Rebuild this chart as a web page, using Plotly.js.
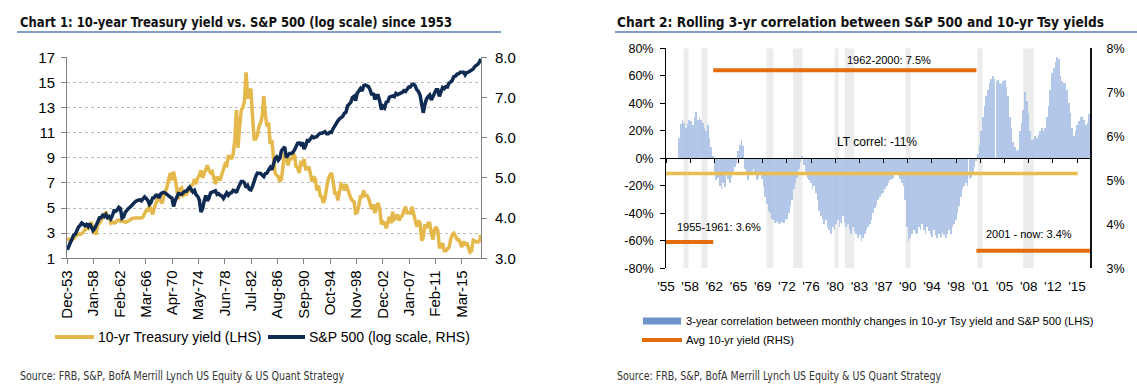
<!DOCTYPE html>
<html><head><meta charset="utf-8">
<script src="https://cdn.plot.ly/plotly-3.0.1.min.js"></script>
<style>html,body{margin:0;padding:0;background:#fff}#c{width:1137px;height:390px}</style>
</head><body><div id="c"></div>
<script>
// ---------- Chart 1 data (quarterly, Dec-53 .. Feb-18) ----------
const c1TickVals = ['1953-12-01','1958-01-01','1962-02-01','1966-03-01','1970-04-01','1974-05-01','1978-06-01','1982-07-01','1986-08-01','1990-09-01','1994-10-01','1998-11-01','2002-12-01','2007-01-01','2011-02-01','2015-03-01'];
const c1TickText = ['Dec-53','Jan-58','Feb-62','Mar-66','Apr-70','May-74','Jun-78','Jul-82','Aug-86','Sep-90','Oct-94','Nov-98','Dec-02','Jan-07','Feb-11','Mar-15'];
const tsyYield = [2.6,
 2.5,2.4,2.5,2.55, 2.75,2.85,2.95,2.9, 2.95,3.1,3.3,3.4, 3.35,3.65,3.9,3.3, 3.0,3.0,3.7,3.8,
 4.0,4.3,4.5,4.7, 4.3,4.2,3.8,3.9, 3.8,3.85,4.0,4.05, 3.95,3.95,3.95,3.85, 3.9,4.0,4.05,4.15,
 4.2,4.2,4.2,4.2, 4.2,4.2,4.3,4.6, 4.8,4.8,5.2,4.85, 4.5,5.0,5.3,5.7, 5.7,5.5,5.4,6.0,
 6.3,6.7,7.3,7.8, 7.2,7.9,7.3,6.4, 5.7,6.5,6.6,6.0, 6.1,6.1,6.5,6.4, 6.8,6.9,7.3,6.9,
 7.4,7.6,8.0,7.4, 7.7,8.0,8.4,8.0, 7.8,7.9,7.5,6.9, 7.5,7.3,7.3,7.7, 8.1,8.5,8.4,9.1,
 9.1,8.9,9.3,10.4, 12.8,9.8,11.5,12.8, 13.0,13.5,15.8,13.7, 14.2,14.5,12.3,10.5, 10.5,10.8,11.5,11.8,
 12.3,13.9,12.4,11.5, 11.8,10.1,10.4,9.3, 7.8,7.6,7.5,7.1, 7.3,8.4,9.4,9.0, 8.4,8.9,8.9,9.1,
 9.3,8.3,8.2,7.8, 8.6,8.5,8.9,8.1, 8.1,8.3,7.7,7.1, 7.5,7.3,6.4,6.8, 6.0,5.9,5.4,5.8,
 6.6,7.3,7.6,7.8, 7.2,6.2,6.2,5.6, 6.3,6.9,6.8,6.4, 6.9,6.5,6.1,5.8, 5.6,5.5,4.6,4.65,
 5.2,5.9,5.9,6.4, 6.0,6.0,5.8,5.2, 4.9,5.3,4.6,5.1, 5.4,4.9,3.7,3.9, 3.8,3.4,4.0,4.3,
 3.8,4.7,4.1,4.2, 4.5,4.0,4.3,4.4, 4.8,5.1,4.6,4.6, 4.6,5.1,4.6,4.0, 3.5,4.0,3.8,2.4,
 2.7,3.7,3.4,3.8, 3.8,3.0,2.5,3.3, 3.5,3.2,1.9,1.9, 2.2,1.6,1.6,1.75, 1.85,2.5,2.9,3.0,
 2.7,2.5,2.5,2.2, 1.9,2.35,2.05,2.25, 1.8,1.5,1.6,2.45, 2.4,2.3,2.3,2.4,
 2.86];
const spxLog = [3.21,
 3.29,3.37,3.48,3.58, 3.60,3.71,3.78,3.82, 3.88,3.85,3.81,3.84, 3.79,3.86,3.75,3.69, 3.74,3.81,3.91,4.01,
 4.01,4.07,4.04,4.09, 4.01,4.04,3.98,4.06, 4.18,4.17,4.20,4.27, 4.24,4.00,4.03,4.14, 4.20,4.24,4.27,4.32,
 4.37,4.40,4.43,4.44, 4.46,4.43,4.50,4.53, 4.49,4.44,4.34,4.39, 4.50,4.51,4.57,4.57, 4.50,4.60,4.63,4.64,
 4.62,4.58,4.53,4.52, 4.50,4.29,4.43,4.52, 4.61,4.60,4.59,4.63, 4.67,4.67,4.71,4.77, 4.71,4.65,4.69,4.58,
 4.54,4.45,4.15,4.23, 4.42,4.56,4.43,4.50, 4.63,4.65,4.66,4.68, 4.59,4.61,4.57,4.55, 4.49,4.56,4.63,4.57,
 4.62,4.63,4.69,4.68, 4.63,4.74,4.83,4.91, 4.91,4.88,4.76,4.81, 4.72,4.70,4.79,4.95, 5.03,5.12,5.11,5.11,
 5.07,5.03,5.11,5.12, 5.20,5.26,5.20,5.35, 5.48,5.52,5.44,5.49, 5.68,5.72,5.77,5.51, 5.56,5.61,5.61,5.63,
 5.69,5.76,5.86,5.87, 5.83,5.88,5.72,5.80, 5.93,5.92,5.96,6.03, 6.00,6.01,6.03,6.08, 6.11,6.11,6.13,6.15,
 6.10,6.10,6.14,6.13, 6.22,6.30,6.37,6.42, 6.47,6.51,6.53,6.61, 6.63,6.79,6.85,6.88, 7.00,7.03,6.92,7.11,
 7.16,7.22,7.16,7.29, 7.31,7.28,7.27,7.19, 7.06,7.11,6.95,7.05, 7.05,6.90,6.70,6.78, 6.74,6.88,6.90,7.01,
 7.03,7.04,7.02,7.10, 7.07,7.08,7.11,7.13, 7.17,7.15,7.20,7.26, 7.26,7.32,7.33,7.29, 7.19,7.15,7.06,6.81,
 6.62,6.82,6.96,7.02, 7.06,6.94,7.04,7.14, 7.19,7.19,7.03,7.14, 7.25,7.22,7.27,7.26, 7.36,7.38,7.43,7.52,
 7.53,7.58,7.59,7.63, 7.63,7.63,7.56,7.62, 7.63,7.65,7.68,7.71, 7.77,7.79,7.83,7.89,
 7.96];

// ---------- Chart 2 data (quarterly, Dec-56 .. Dec-17) ----------
const c2TickVals = ['1955-01-01','1958-08-01','1962-03-01','1965-10-01','1969-05-01','1972-12-01','1976-07-01','1980-02-01','1983-09-01','1987-04-01','1990-11-01','1994-06-01','1998-01-01','2001-08-01','2005-03-01','2008-10-01','2012-05-01','2015-12-01'];
const c2TickText = ["'55","'58","'62","'65","'69","'72","'76","'80","'83","'87","'90","'94","'98","'01","'05","'08","'12","'15"];
const corrTicks = [-80,-60,-40,-20,0,20,40,60,80];
const yieldTicks = [3,4,5,6,7,8];
const rollCorr = [15,
 25,28,26,22, 25,28,27,24, 30,34,28,30, 28,26,22,20, 24,15,8,2,
 -10,-16,-14,-20, -22,-18,-21,-12, -15,-18,-14,-10, -6,-4,5,10, 13,9,-8,-12,
 -16,-10,-11,-8, -12,-16,-14,-10, -15,-20,-28,-33, -38,-40,-44,-45, -47,-46,-48,-47,
 -46,-47,-45,-44, -40,-35,-30,-22, -18,-14,-8,-3, 2,-5,-10,-14, -16,-18,-22,-20,
 -25,-30,-38,-42, -44,-48,-45,-50, -52,-55,-50,-52, -48,-45,-50,-47, -42,-46,-50,-48,
 -52,-55,-50,-53, -55,-58,-56,-60, -58,-55,-52,-50, -48,-45,-40,-36, -34,-30,-28,-26,
 -25,-22,-20,-18, -16,-15,-14,-12, -10,-12,-15,-18, -20,-30,-50,-60, -58,-55,-52,-54,
 -55,-50,-52,-48, -52,-55,-50,-53, -55,-57,-52,-56, -58,-55,-57,-54, -56,-58,-55,-52,
 -55,-50,-48,-45, -40,-35,-28,-22, -20,-18,-20,-15, -14,-10,-6,-2, 3,10,20,30,
 38,45,50,55, 58,60,58,56, 57,55,54,56, 57,52,45,30, 22,12,8,5,
 6,20,26,35, 48,42,33,20, 13,14,16,15, 17,20,22,20, 22,30,38,50,
 62,66,70,74, 72,60,56,55, 55,50,40,33, 22,16,20,24, 27,30,31,28,
 24,26,32,37];
const avgStart = ['1955-01-01','1962-01-01','2001-01-01'];
const avgEnd   = ['1961-12-31','2000-12-31','2017-11-01'];
const avgYield = [3.6, 7.5, 3.4];
const avgLabels = ['1955-1961: 3.6%','1962-2000: 7.5%','2001 - now: 3.4%'];
const ltCorr = -11;
const ltRange = ['1955-01-01','2016-01-01'];
const recessions = [['1957-08-01','1958-04-30'],['1960-04-01','1961-02-28'],['1969-12-01','1970-11-30'],['1973-11-01','1975-03-31'],['1980-01-01','1980-07-31'],['1981-07-01','1982-11-30'],['1990-07-01','1991-03-31'],['2001-03-01','2001-11-30'],['2007-12-01','2009-06-30']];

// ---------- build date arrays ----------
function quarterly(startLabel, y0, y1, tail){
  const d=[startLabel];
  for(let y=y0;y<=y1;y++){['03','06','09','12'].forEach(m=>d.push(y+'-'+m+'-15'));}
  if(tail) d.push(tail);
  return d;
}
const c1Dates = quarterly('1953-12-15',1954,2017,'2018-02-15');
const c2Dates = quarterly('1956-12-15',1957,2017,null);

const W=1137,H=390;
const px=v=>v/W, py=v=>1-v/H;
const F='"Liberation Sans", Arial, sans-serif';
const FN='"DejaVu Sans Condensed","DejaVu Sans","Liberation Sans", sans-serif';
const GOLD='#E5B84C', NAVY='#0F2B52', ORANGE='#E46C0A', BLUE='#ABC2E6', LTGOLD='#E9BE50';

const traces=[
 {x:c1Dates,y:tsyYield,xaxis:'x',yaxis:'y',type:'scatter',mode:'lines',line:{color:GOLD,width:3.5},hoverinfo:'skip'},
 {x:c1Dates,y:spxLog,xaxis:'x',yaxis:'y2',type:'scatter',mode:'lines',line:{color:NAVY,width:3.5},hoverinfo:'skip'},
 {x:c2Dates,y:rollCorr,xaxis:'x2',yaxis:'y3',type:'bar',marker:{color:BLUE,line:{width:0}},opacity:0.9,hoverinfo:'skip'},
 {x:ltRange,y:[ltCorr,ltCorr],xaxis:'x3',yaxis:'y3',type:'scatter',mode:'lines',line:{color:LTGOLD,width:3.5},hoverinfo:'skip'}
];
avgYield.forEach((v,i)=>traces.push({x:[avgStart[i],avgEnd[i]],y:[v,v],xaxis:'x2',yaxis:'y4',type:'scatter',mode:'lines',line:{color:ORANGE,width:4},hoverinfo:'skip'}));

const y3dom=[py(268.3),py(48.3)];
const shapes=[];
recessions.forEach(r=>shapes.push({type:'rect',xref:'x2',yref:'y3',x0:r[0],x1:r[1],y0:-80,y1:80,fillcolor:'#ECECEC',line:{width:0},layer:'below'}));
shapes.push({type:'line',xref:'paper',yref:'paper',x0:px(17),x1:px(501),y0:py(32),y1:py(32),line:{color:'#5B7DB5',width:1.5}});
shapes.push({type:'line',xref:'paper',yref:'paper',x0:px(615),x1:px(1137),y0:py(32),y1:py(32),line:{color:'#5B7DB5',width:1.5}});
shapes.push({type:'line',xref:'paper',yref:'paper',x0:px(55),x1:px(94),y0:py(337),y1:py(337),line:{color:GOLD,width:4}});
shapes.push({type:'line',xref:'paper',yref:'paper',x0:px(268),x1:px(305),y0:py(337),y1:py(337),line:{color:NAVY,width:4}});
shapes.push({type:'rect',xref:'paper',yref:'paper',x0:px(643),x1:px(681),y0:py(324.5),y1:py(317.5),fillcolor:'#6F93CC',line:{width:0}});
shapes.push({type:'line',xref:'paper',yref:'paper',x0:px(642),x1:px(682),y0:py(340),y1:py(340),line:{color:ORANGE,width:4}});

const TITLE1='Chart 1: 10-year Treasury yield vs. S&P 500 (log scale) since 1953';
const TITLE2='Chart 2: Rolling 3-yr correlation between S&P 500 and 10-yr Tsy yields';
const SOURCE='Source: FRB, S&P, BofA Merrill Lynch US Equity & US Quant Strategy';
const ann=(t,x,y,size,opt)=>Object.assign({text:t,xref:'paper',yref:'paper',x:px(x),y:py(y),xanchor:'left',yanchor:'middle',showarrow:false,font:{family:F,size:size,color:'#000'}},opt||{});
const annotations=[
 ann(TITLE1,18,22,14,{font:{family:FN,size:14,color:'#111',weight:'bold'}}),
 ann(TITLE2,617,22,14,{font:{family:FN,size:14,color:'#111',weight:'bold'}}),
 ann('10-yr Treasury yield (LHS)',96,337,14),
 ann('S&P 500 (log scale, RHS)',307,337,14),
 ann('3-year correlation between monthly changes in 10-yr Tsy yield and S&P 500 (LHS)',684,321,11.2),
 ann('Avg 10-yr yield (RHS)',684,340,11.2),
 ann(SOURCE,19,376,12,{font:{family:FN,size:12,color:'#333'}}),
 ann(SOURCE,616,376,12,{font:{family:FN,size:12,color:'#333'}}),
 ann(avgLabels[0],675,227,11),
 ann(avgLabels[1],845,60,11),
 ann(avgLabels[2],984,234,11),
 ann('LT correl: '+ltCorr+'%',835,142,12)
];
// condensed texts: [text, left x in px, target width in px]
const fitTexts=[[TITLE1,20,432],[TITLE2,617,487],[SOURCE,20,324],[SOURCE,617,324]];

const AX='#808080';
const layout={
 width:W,height:H,margin:{l:0,r:0,t:0,b:0},paper_bgcolor:'#fff',plot_bgcolor:'rgba(0,0,0,0)',showlegend:false,
 bargap:0,
 xaxis:{domain:[px(67),px(481)],anchor:'y',type:'date',range:['1953-12-01','2018-03-01'],tickmode:'array',tickvals:c1TickVals,ticktext:c1TickText,tickangle:-90,ticks:'outside',ticklen:5,tickcolor:AX,showline:true,linecolor:AX,showgrid:false,zeroline:false,tickfont:{family:F,size:15,color:'#000'}},
 yaxis:{domain:[py(258.3),py(57.3)],anchor:'x',range:[1,17],tickmode:'array',tickvals:[1,3,5,7,9,11,13,15,17],showgrid:true,gridcolor:'#BDBDBD',griddash:'dot',showline:true,linecolor:AX,ticks:'outside',ticklen:5,tickcolor:AX,zeroline:false,tickfont:{family:F,size:15,color:'#000'},ticklabelstandoff:3},
 yaxis2:{overlaying:'y',side:'right',anchor:'x',range:[3,8],tickmode:'array',tickvals:[3,4,5,6,7,8],tickformat:'.1f',showgrid:false,showline:true,linecolor:AX,ticks:'outside',ticklen:5,tickcolor:AX,zeroline:false,tickfont:{family:F,size:15,color:'#000'},ticklabelstandoff:5},
 xaxis2:{domain:[px(666),px(1090)],anchor:'y3',type:'date',range:['1955-01-01','2017-11-01'],tickmode:'array',tickvals:c2TickVals,ticktext:c2TickText,ticks:'',showline:false,showgrid:false,zeroline:false,tickfont:{family:F,size:13.5,color:'#000'},ticklabelstandoff:8},
 xaxis3:{matches:'x2',overlaying:'x2',anchor:'free',position:(y3dom[0]+y3dom[1])/2,type:'date',tickmode:'array',tickvals:c2TickVals,showticklabels:false,ticks:'outside',ticklen:4,tickcolor:'#000',showline:true,linecolor:'#000',linewidth:1,showgrid:false,zeroline:false},
 yaxis3:{domain:y3dom,anchor:'x2',range:[-80,80],tickmode:'array',tickvals:corrTicks,ticktext:corrTicks.map(v=>v+'%'),showgrid:false,showline:true,linecolor:'#000',ticks:'outside',ticklen:5,tickcolor:'#000',zeroline:false,tickfont:{family:F,size:12.5,color:'#000'},ticklabelstandoff:4},
 yaxis4:{overlaying:'y3',side:'right',anchor:'x2',range:[3,8],tickmode:'array',tickvals:yieldTicks,ticktext:yieldTicks.map(v=>v+'%'),showgrid:false,showline:true,linecolor:'#111',linewidth:2,ticks:'',zeroline:false,tickfont:{family:F,size:12.5,color:'#000'},ticklabelstandoff:12},
 shapes:shapes,annotations:annotations
};
Plotly.newPlot('c',traces,layout,{staticPlot:true,displayModeBar:false}).then(gd=>{
  const svgLeft=gd.querySelector('.main-svg').getBoundingClientRect().left;
  const used=new Set();
  gd.querySelectorAll('.annotation-text').forEach(t=>{
    const txt=t.textContent;
    const idx=fitTexts.findIndex((f,i)=>f[0]===txt && !used.has(i));
    if(idx<0) return;
    used.add(idx);
    const f=fitTexts[idx];
    t.setAttribute('text-anchor','start');
    t.style.textAnchor='start';
    const x0=parseFloat(t.getAttribute('x')||'0');
    t.setAttribute('textLength',f[2]);
    t.setAttribute('lengthAdjust','spacingAndGlyphs');
    const r2=t.getBoundingClientRect();
    const shift=f[1]-(r2.left-svgLeft);
    t.setAttribute('x',x0+shift);
  });
});
</script></body></html>
